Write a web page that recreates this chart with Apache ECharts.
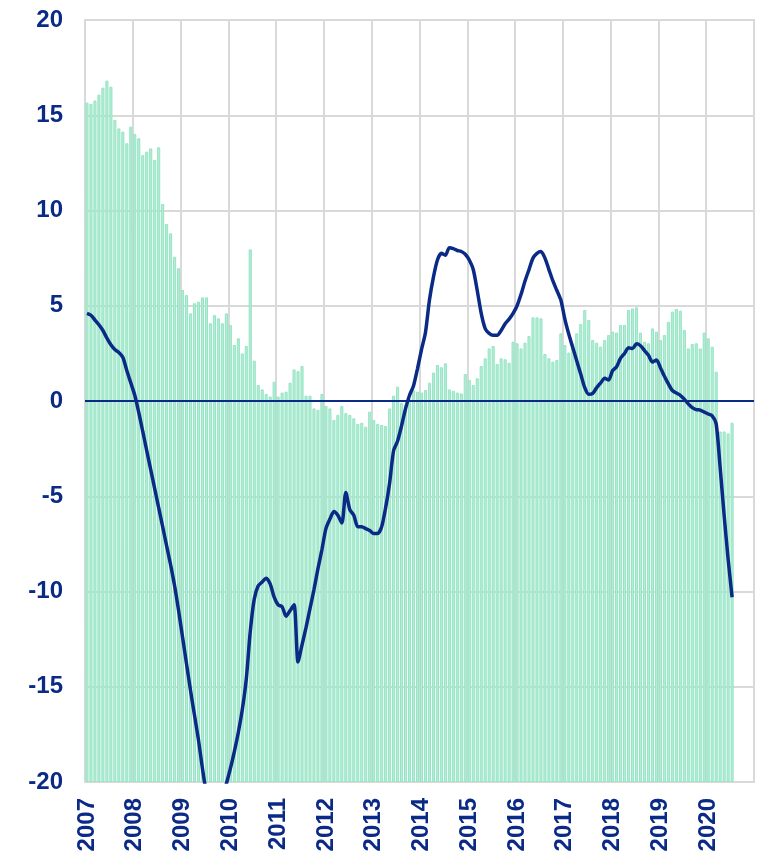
<!DOCTYPE html>
<html>
<head>
<meta charset="utf-8">
<script src="https://cdn.jsdelivr.net/npm/echarts@6/dist/echarts.min.js"></script>
<style>
html,body{margin:0;padding:0;background:#fff;}
#chart{width:767px;height:860px;}
</style>
</head>
<body>
<div id="chart"></div>
<script>
// Years shown on the x axis (monthly categories from Jan 2007 to Dec 2020)
var years = ['2007','2008','2009','2010','2011','2012','2013','2014','2015','2016','2017','2018','2019','2020'];
var months = ['01','02','03','04','05','06','07','08','09','10','11','12'];

// Bar series (monthly values, Jan 2007 - Jul 2020)
var barValues = [
  15.66, 15.59, 15.77, 16.08, 16.45, 16.82, 16.5, 14.75, 14.31, 14.14, 13.53, 14.4,
  14.02, 13.79, 12.91, 13.09, 13.26, 12.65, 13.32, 10.34, 9.29, 8.8, 7.57, 6.97,
  5.83, 5.56, 4.6, 5.13, 5.21, 5.44, 5.44, 4.08, 4.51, 4.34, 4.08, 4.6,
  3.99, 2.94, 3.29, 2.5, 2.89, 7.96, 2.12, 0.84, 0.61, 0.37, 0.23, 1.01,
  0.23, 0.44, 0.49, 0.96, 1.66, 1.57, 1.84, 0.28, 0.28, -0.39, -0.47, 0.37,
  -0.26, -0.39, -1.0, -0.73, -0.26, -0.64, -0.73, -0.91, -1.21, -1.14, -1.35, -0.56,
  -1.0, -1.21, -1.26, -1.31, -0.39, 0.28, 0.75, -0.1, -0.2, 0.09, 0.58, 0.49,
  0.44, 0.58, 0.96, 1.49, 1.89, 1.77, 1.98, 0.61, 0.53, 0.44, 0.4, 1.42,
  1.1, 0.84, 1.19, 1.84, 2.24, 2.76, 2.89, 1.94, 2.24, 2.19, 2.01, 3.11,
  3.03, 2.76, 3.06, 3.41, 4.39, 4.39, 4.34, 2.47, 2.24, 2.06, 2.15, 3.55,
  2.94, 2.54, 3.03, 3.55, 4.04, 4.78, 4.25, 3.2, 3.06, 2.85, 3.2, 3.46,
  3.64, 3.59, 3.99, 3.99, 4.78, 4.86, 4.92, 3.59, 3.11, 3.03, 3.81, 3.64,
  3.2, 3.46, 4.16, 4.69, 4.83, 4.74, 3.73, 2.76, 2.99, 3.03, 2.76, 3.59,
  3.29, 2.85, 1.54, -1.6, -1.6, -1.7, -1.14
];

// Line series (monthly values, Jan 2007 - Jul 2020)
var lineValues = [
  4.6, 4.5, 4.25, 4.0, 3.7, 3.3, 2.95, 2.7, 2.55, 2.3, 1.6, 0.95,
  0.3, -0.6, -1.6, -2.6, -3.6, -4.6, -5.6, -6.6, -7.6, -8.6, -9.7, -11.0,
  -12.4, -13.8, -15.2, -16.5, -17.8, -19.3, -20.6, -21.5, -22.0, -21.8, -21.0, -20.1,
  -19.3, -18.4, -17.4, -16.2, -14.6, -12.1, -10.4, -9.7, -9.5, -9.3, -9.6, -10.3,
  -10.7, -10.8, -11.3, -11.0, -10.7, -13.7, -12.8, -11.9, -10.9, -9.9, -8.8, -7.8,
  -6.7, -6.2, -5.8, -6.0, -6.4, -4.8, -5.7, -6.0, -6.6, -6.6, -6.7, -6.8,
  -6.95, -6.95, -6.6, -5.6, -4.3, -2.6, -2.1, -1.3, -0.4, 0.3, 0.8, 1.7,
  2.7, 3.6, 5.3, 6.5, 7.4, 7.75, 7.65, 8.05, 8.0, 7.9, 7.85, 7.7,
  7.4, 6.9, 5.8, 4.6, 3.8, 3.55, 3.45, 3.45, 3.7, 4.05, 4.3, 4.6,
  5.0, 5.6, 6.3, 6.9, 7.5, 7.75, 7.85, 7.5, 6.9, 6.3, 5.8, 5.3,
  4.3, 3.5, 2.8, 2.1, 1.4, 0.7, 0.35, 0.4, 0.7, 0.95, 1.2, 1.1,
  1.6, 1.8, 2.25, 2.5, 2.8, 2.75, 3.0, 2.9, 2.65, 2.4, 2.05, 2.15,
  1.75, 1.3, 0.9, 0.55, 0.42, 0.3, 0.1, -0.15, -0.35, -0.45, -0.48, -0.58,
  -0.68, -0.78, -1.2, -3.5, -6.0, -8.3, -10.3
];

// y-axis range / ticks
var yMin = -20, yMax = 20, yStep = 5;

var categories = [];
years.forEach(function (y) { months.forEach(function (m) { categories.push(y + '-' + m); }); });

var navy = '#0a2a86';
var grey = '#d9d9d9';
var font = '"Liberation Sans", Arial, sans-serif';

var chart = echarts.init(document.getElementById('chart'), null, {renderer: 'canvas'});
chart.setOption({
  animation: false,
  backgroundColor: '#ffffff',
  grid: {left: 85, right: 13, top: 20, bottom: 78, show: true, borderColor: grey, borderWidth: 2, containLabel: false},
  xAxis: {
    type: 'category',
    data: categories,
    boundaryGap: true,
    axisLine: {show: false, onZero: false},
    axisTick: {show: false},
    axisLabel: {
      interval: 11, rotate: 90, margin: 16,
      color: navy, fontFamily: font, fontWeight: 'bold', fontSize: 24,
      formatter: function (v) { return v.slice(0, 4); }
    },
    splitLine: {show: true, interval: 11, lineStyle: {color: grey, width: 2}}
  },
  yAxis: {
    type: 'value',
    min: yMin, max: yMax, interval: yStep,
    startValue: yMin,
    axisLine: {show: false},
    axisTick: {show: false},
    axisLabel: {color: navy, fontFamily: font, fontWeight: 'bold', fontSize: 24, margin: 22},
    splitLine: {show: true, lineStyle: {color: grey, width: 2}}
  },
  series: [
    {
      type: 'bar',
      data: barValues,
      barCategoryGap: '22%',
      itemStyle: {color: '#b2eed5', borderColor: '#96e4c4', borderWidth: 1},
      z: 2
    },
    {
      type: 'line',
      data: lineValues,
      symbol: 'none',
      smooth: 0.25,
      clip: true,
      lineStyle: {color: navy, width: 3.5},
      z: 4,
      markLine: {
        silent: true,
        symbol: 'none',
        label: {show: false},
        lineStyle: {color: navy, width: 2, type: 'solid'},
        data: [{yAxis: 0}]
      }
    }
  ]
});
</script>
</body>
</html>
